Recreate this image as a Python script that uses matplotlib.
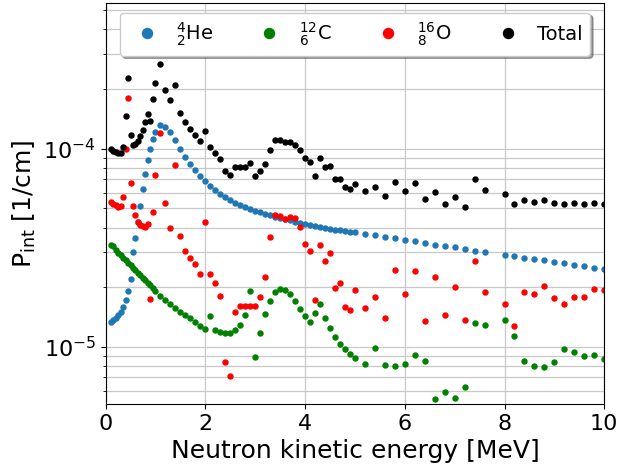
import numpy as np
import matplotlib
matplotlib.use("Agg")
import matplotlib.pyplot as plt

# neutron energies [MeV]
energy = np.array([
    0.1, 0.15, 0.2, 0.25, 0.3, 0.35, 0.4, 0.45, 0.5, 0.55,
    0.6, 0.65, 0.7, 0.75, 0.8, 0.85, 0.9, 0.95, 1.0,
    1.1, 1.2, 1.3, 1.4, 1.5, 1.6, 1.7, 1.8, 1.9, 2.0,
    2.1, 2.2, 2.3, 2.4, 2.5, 2.6, 2.7, 2.8, 2.9, 3.0,
    3.1, 3.2, 3.3, 3.4, 3.5, 3.6, 3.7, 3.8, 3.9, 4.0,
    4.1, 4.2, 4.3, 4.4, 4.5, 4.6, 4.7, 4.8, 4.9, 5.0,
    5.2, 5.4, 5.6, 5.8, 6.0, 6.2, 6.4, 6.6, 6.8, 7.0,
    7.2, 7.4, 7.6, 8.0, 8.2, 8.4, 8.6, 8.8, 9.0, 9.2,
    9.4, 9.6, 9.8, 10.0,
])

# interaction probability per cm for each nucleus
p_he = np.array([
    1.34e-5, 1.37e-5, 1.40e-5, 1.45e-5, 1.49e-5, 1.59e-5, 1.72e-5, 1.91e-5, 2.20e-5, 3.00e-5,
    3.56e-5, 4.29e-5, 5.15e-5, 6.24e-5, 7.43e-5, 8.74e-5, 1.00e-4, 1.12e-4, 1.22e-4,
    1.31e-4, 1.29e-4, 1.21e-4, 1.10e-4, 9.97e-5, 9.11e-5, 8.40e-5, 7.78e-5, 7.28e-5, 6.85e-5,
    6.48e-5, 6.19e-5, 5.93e-5, 5.70e-5, 5.51e-5, 5.34e-5, 5.19e-5, 5.08e-5, 4.98e-5, 4.86e-5,
    4.78e-5, 4.68e-5, 4.61e-5, 4.53e-5, 4.47e-5, 4.42e-5, 4.35e-5, 4.28e-5, 4.22e-5, 4.17e-5,
    4.12e-5, 4.07e-5, 4.03e-5, 3.98e-5, 3.93e-5, 3.90e-5, 3.88e-5, 3.84e-5, 3.81e-5, 3.79e-5,
    3.72e-5, 3.65e-5, 3.59e-5, 3.53e-5, 3.47e-5, 3.41e-5, 3.34e-5, 3.28e-5, 3.23e-5, 3.18e-5,
    3.10e-5, 3.05e-5, 3.00e-5, 2.89e-5, 2.87e-5, 2.81e-5, 2.77e-5, 2.73e-5, 2.67e-5, 2.64e-5,
    2.60e-5, 2.56e-5, 2.51e-5, 2.46e-5,
])

p_c = np.array([
    3.27e-5, 3.24e-5, 3.08e-5, 2.98e-5, 2.90e-5, 2.82e-5, 2.73e-5, 2.65e-5, 2.58e-5, 2.51e-5,
    2.43e-5, 2.37e-5, 2.30e-5, 2.23e-5, 2.17e-5, 2.11e-5, 2.04e-5, 1.98e-5, 1.91e-5,
    1.81e-5, 1.72e-5, 1.64e-5, 1.57e-5, 1.50e-5, 1.44e-5, 1.39e-5, 1.33e-5, 1.28e-5, 1.23e-5,
    1.43e-5, 1.21e-5, 1.19e-5, 1.17e-5, 1.18e-5, 1.21e-5, 1.29e-5, 1.45e-5, 1.91e-5, 8.84e-6,
    1.17e-5, 1.47e-5, 1.71e-5, 1.88e-5, 1.95e-5, 1.93e-5, 1.84e-5, 1.71e-5, 1.56e-5, 1.43e-5,
    1.34e-5, 1.48e-5, 1.64e-5, 1.40e-5, 1.24e-5, 1.12e-5, 1.03e-5, 9.71e-6, 9.22e-6, 8.74e-6,
    8.21e-6, 9.85e-6, 8.06e-6, 7.98e-6, 8.15e-6, 9.08e-6, 8.52e-6, 5.48e-6, 5.90e-6, 5.53e-6,
    6.27e-6, 1.32e-5, 1.29e-5, 1.37e-5, 1.13e-5, 8.46e-6, 7.98e-6, 7.94e-6, 8.39e-6, 9.71e-6,
    9.41e-6, 9.01e-6, 9.12e-6, 8.67e-6,
])

p_o = np.array([
    5.38e-5, 5.28e-5, 5.18e-5, 5.08e-5, 5.15e-5, 5.70e-5, 1.00e-4, 1.80e-4, 6.69e-5, 5.13e-5,
    4.61e-5, 4.29e-5, 4.14e-5, 4.05e-5, 4.02e-5, 4.17e-5, 1.74e-5, 4.81e-5, 7.39e-5,
    1.20e-4, 5.30e-5, 3.99e-5, 8.32e-5, 3.64e-5, 3.06e-5, 2.80e-5, 2.62e-5, 2.34e-5, 4.27e-5,
    2.34e-5, 2.10e-5, 1.81e-5, 8.36e-6, 7.14e-6, 1.49e-5, 1.61e-5, 1.61e-5, 1.61e-5, 1.60e-5,
    1.79e-5, 2.24e-5, 3.57e-5, 4.64e-5, 4.59e-5, 4.44e-5, 4.53e-5, 4.48e-5, 4.01e-5, 3.31e-5,
    3.05e-5, 1.72e-5, 3.25e-5, 2.72e-5, 2.96e-5, 1.98e-5, 2.11e-5, 1.59e-5, 1.53e-5, 1.93e-5,
    1.57e-5, 1.78e-5, 1.39e-5, 2.44e-5, 1.85e-5, 2.40e-5, 1.35e-5, 2.26e-5, 1.44e-5, 2.01e-5,
    1.37e-5, 2.71e-5, 1.89e-5, 1.64e-5, 1.27e-5, 1.89e-5, 1.84e-5, 2.03e-5, 1.77e-5, 1.64e-5,
    1.79e-5, 1.79e-5, 1.95e-5, 1.93e-5,
])

p_total = np.array([
    9.97e-5, 9.77e-5, 9.62e-5, 9.48e-5, 9.51e-5, 1.02e-4, 1.46e-4, 2.28e-4, 1.17e-4, 1.05e-4,
    1.06e-4, 1.09e-4, 1.16e-4, 1.24e-4, 1.36e-4, 1.50e-4, 1.38e-4, 1.79e-4, 2.15e-4,
    2.69e-4, 1.99e-4, 1.77e-4, 2.09e-4, 1.51e-4, 1.36e-4, 1.26e-4, 1.17e-4, 1.09e-4, 1.23e-4,
    1.02e-4, 9.49e-5, 8.89e-5, 7.73e-5, 7.39e-5, 8.06e-5, 8.11e-5, 8.13e-5, 8.45e-5, 7.32e-5,
    7.73e-5, 8.40e-5, 9.85e-5, 1.10e-4, 1.10e-4, 1.08e-4, 1.08e-4, 1.05e-4, 9.82e-5, 8.94e-5,
    8.54e-5, 7.31e-5, 8.94e-5, 8.11e-5, 8.15e-5, 7.03e-5, 7.03e-5, 6.43e-5, 6.28e-5, 6.61e-5,
    6.12e-5, 6.40e-5, 5.77e-5, 6.77e-5, 6.14e-5, 6.71e-5, 5.55e-5, 6.08e-5, 5.26e-5, 5.72e-5,
    5.08e-5, 7.06e-5, 6.19e-5, 5.91e-5, 5.26e-5, 5.53e-5, 5.38e-5, 5.53e-5, 5.30e-5, 5.26e-5,
    5.32e-5, 5.24e-5, 5.34e-5, 5.28e-5,
])

series = [
    (p_he, "tab:blue", r"$^{4}_{2}$He"),
    (p_c, "green", r"$^{12}_{6}$C"),
    (p_o, "red", r"$^{16}_{8}$O"),
    (p_total, "black", "Total"),
]

fig = plt.figure(figsize=(6.21, 4.72), dpi=100)
ax = fig.add_axes([0.170, 0.144, 0.803, 0.850])

for values, colour, label in series:
    ax.plot(energy, values, "o", color=colour, markersize=3.6, label=label)

ax.set_yscale("log")
ax.set_xlim(0, 10)
ax.set_ylim(5.14e-6, 5.45e-4)
ax.set_xticks([0, 2, 4, 6, 8, 10])

ax.grid(True, which="major", axis="x", color="#c8c8c8", linewidth=0.9)
ax.grid(True, which="both", axis="y", color="#c8c8c8", linewidth=0.9)
ax.set_axisbelow(True)

ax.tick_params(axis="both", which="major", labelsize=16)
ax.set_xlabel("Neutron kinetic energy [MeV]", fontsize=18)
ax.set_ylabel(r"P$_{\rm int}$ [1/cm]", fontsize=18)

ax.legend(loc="upper center", ncol=4, fontsize=14, markerscale=2.0,
          shadow=True, columnspacing=1.9, handletextpad=0.5)

fig.savefig("out.png", dpi=100)
